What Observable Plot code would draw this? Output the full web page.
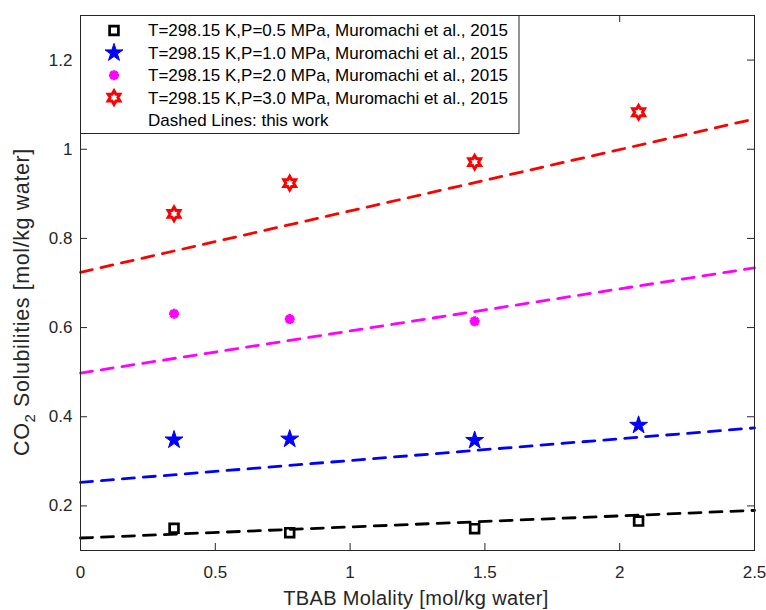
<!DOCTYPE html>
<html><head><meta charset="utf-8">
<script src="https://cdn.jsdelivr.net/npm/d3@7"></script>
<script src="https://cdn.jsdelivr.net/npm/@observablehq/plot@0.6"></script>
<style>body{margin:0;background:#fff;} #chart{width:766px;height:610px;}</style>
</head><body><div id="chart"></div>
<script>
// ---- data ----
const molality = [0.347, 0.776, 1.462, 2.07];
const sol05 = [0.150, 0.140, 0.149, 0.166];
const sol10 = [0.348, 0.350, 0.347, 0.381];
const sol20 = [0.631, 0.619, 0.614];
const sol30 = [0.855, 0.924, 0.971, 1.083];
const modelX = [0, 2.5];
const model05 = [0.128, 0.190];
const model10 = [0.253, 0.375];
const model20 = [0.498, 0.734];
const model30 = [0.724, 1.068];
const xTicks = [0, 0.5, 1, 1.5, 2, 2.5];
const xTickLabels = ["0", "0.5", "1", "1.5", "2", "2.5"];
const yTicks = [0.2, 0.4, 0.6, 0.8, 1, 1.2];
const yTickLabels = ["0.2", "0.4", "0.6", "0.8", "1", "1.2"];
const legendLabels = [
  "T=298.15 K,P=0.5 MPa, Muromachi et al., 2015",
  "T=298.15 K,P=1.0 MPa, Muromachi et al., 2015",
  "T=298.15 K,P=2.0 MPa, Muromachi et al., 2015",
  "T=298.15 K,P=3.0 MPa, Muromachi et al., 2015",
  "Dashed Lines: this work"
];
const colors = ["#000000", "#0000ff", "#ff00ff", "#ff0000"];

// ---- custom marker shapes (MATLAB-like) ----
const symSquare = {draw(ctx, size) { const r = Math.sqrt(size / Math.PI); ctx.rect(-r, -r, 2 * r, 2 * r); }};
const symPentagram = {draw(ctx, size) {
  const R = Math.sqrt(size / Math.PI), ri = R * 0.382;
  for (let i = 0; i < 10; i++) {
    const a = -Math.PI / 2 + i * Math.PI / 5, rr = i % 2 ? ri : R;
    if (i) ctx.lineTo(rr * Math.cos(a), rr * Math.sin(a)); else ctx.moveTo(rr * Math.cos(a), rr * Math.sin(a));
  }
  ctx.closePath();
}};
const symHexagram = {draw(ctx, size) {
  const R = Math.sqrt(size / Math.PI), ri = R / Math.sqrt(3);
  for (let i = 0; i < 12; i++) {
    const a = -Math.PI / 2 + i * Math.PI / 6, rr = i % 2 ? ri : R;
    if (i) ctx.lineTo(rr * Math.cos(a), rr * Math.sin(a)); else ctx.moveTo(rr * Math.cos(a), rr * Math.sin(a));
  }
  ctx.closePath();
}};
const symAsterisk8 = {draw(ctx, size) {
  const R = Math.sqrt(size / Math.PI);
  for (let i = 0; i < 4; i++) {
    const a = i * Math.PI / 4, c = Math.cos(a) * R, s = Math.sin(a) * R;
    ctx.moveTo(-c, -s); ctx.lineTo(c, s);
  }
}};

const pts = (ys) => ys.map((y, i) => ({x: molality[i], y}));
const mdl = (ys) => ys.map((y, i) => ({x: modelX[i], y}));

const W = 766, H = 610, mL = 80, mR = 12, mT = 15, mB = 60;
const plotW = W - mL - mR, plotH = H - mT - mB, tk = 7;
const axisColor = "#262626";
const dash = "12,9";

const markerSpecs = [
  {symbol: symSquare, r: 4.4, fill: "none", stroke: colors[0], strokeWidth: 2.7},
  {symbol: symPentagram, r: 9.4, fill: colors[1], stroke: colors[1], strokeWidth: 1},
  {symbol: symAsterisk8, r: 5, fill: "none", stroke: colors[2], strokeWidth: 3},
  {symbol: symHexagram, r: 6.8, fill: "none", stroke: colors[3], strokeWidth: 3}
];

const plot = Plot.plot({
  width: W, height: H,
  marginLeft: mL, marginRight: mR, marginTop: mT, marginBottom: mB,
  style: {fontFamily: "'Liberation Sans', Arial, sans-serif", fontSize: "17px", color: axisColor, background: "white"},
  x: {domain: [0, 2.5]},
  y: {domain: [0.1, 1.3]},
  marks: [
    Plot.line(mdl(model05), {x: "x", y: "y", stroke: colors[0], strokeWidth: 2.8, strokeDasharray: dash}),
    Plot.line(mdl(model10), {x: "x", y: "y", stroke: colors[1], strokeWidth: 2.8, strokeDasharray: dash}),
    Plot.line(mdl(model20), {x: "x", y: "y", stroke: colors[2], strokeWidth: 2.8, strokeDasharray: dash}),
    Plot.line(mdl(model30), {x: "x", y: "y", stroke: colors[3], strokeWidth: 2.8, strokeDasharray: dash}),
    Plot.dot(pts(sol05), {x: "x", y: "y", ...markerSpecs[0]}),
    Plot.dot(pts(sol10), {x: "x", y: "y", ...markerSpecs[1]}),
    Plot.dot(pts(sol20), {x: "x", y: "y", ...markerSpecs[2]}),
    Plot.dot(pts(sol30), {x: "x", y: "y", ...markerSpecs[3]}),
    Plot.frame({stroke: axisColor, strokeWidth: 1}),
    Plot.tickX(xTicks, {x: d => d, insetTop: plotH - tk, stroke: axisColor}),
    Plot.tickX(xTicks, {x: d => d, insetBottom: plotH - tk, stroke: axisColor}),
    Plot.tickY(yTicks, {y: d => d, insetRight: plotW - tk, stroke: axisColor}),
    Plot.tickY(yTicks, {y: d => d, insetLeft: plotW - tk, stroke: axisColor}),
    Plot.axisX({ticks: xTicks, tickSize: 0, tickPadding: 15, label: null,
      tickFormat: d => xTickLabels[xTicks.indexOf(d)]}),
    Plot.axisY({ticks: yTicks, tickSize: 0, tickPadding: 8, label: null,
      tickFormat: d => yTickLabels[yTicks.indexOf(d)]})
  ]
});
document.getElementById("chart").appendChild(plot);

const svg = d3.select(plot);
const font = "'Liberation Sans', Arial, sans-serif";
// x label
svg.append("text")
  .attr("x", 416).attr("y", 605).attr("text-anchor", "middle")
  .attr("fill", axisColor).style("font-family", font).style("font-size", "20px").style("letter-spacing", "0.35px")
  .text("TBAB Molality [mol/kg water]");
// y label with subscript
const yl = svg.append("text")
  .attr("transform", "translate(29,302) rotate(-90)").attr("text-anchor", "middle")
  .attr("fill", axisColor).style("font-family", font).style("font-size", "21.5px").style("letter-spacing", "0.6px");
yl.append("tspan").text("CO");
yl.append("tspan").attr("dy", 6).style("font-size", "15px").text("2");
yl.append("tspan").attr("dy", -6).text(" Solubilities [mol/kg water]");

// legend
const lg = svg.append("g");
lg.append("rect").attr("x", 80.5).attr("y", 15.5).attr("width", 438.5).attr("height", 118)
  .attr("fill", "white").attr("stroke", axisColor).attr("stroke-width", 1);
const rowY = [30.5, 52.8, 75.2, 97.6, 119.8];
markerSpecs.forEach((m, i) => {
  lg.append("path")
    .attr("transform", `translate(114,${rowY[i]})`)
    .attr("d", d3.symbol(m.symbol, m.r * m.r * Math.PI)())
    .attr("fill", m.fill).attr("stroke", m.stroke).attr("stroke-width", m.strokeWidth);
});
legendLabels.forEach((t, i) => {
  lg.append("text").attr("x", 148).attr("y", rowY[i]).attr("dy", "0.35em").attr("text-anchor", "start")
    .attr("fill", "#000").style("font-family", font).style("font-size", "17px").text(t);
});
</script>
</body></html>
